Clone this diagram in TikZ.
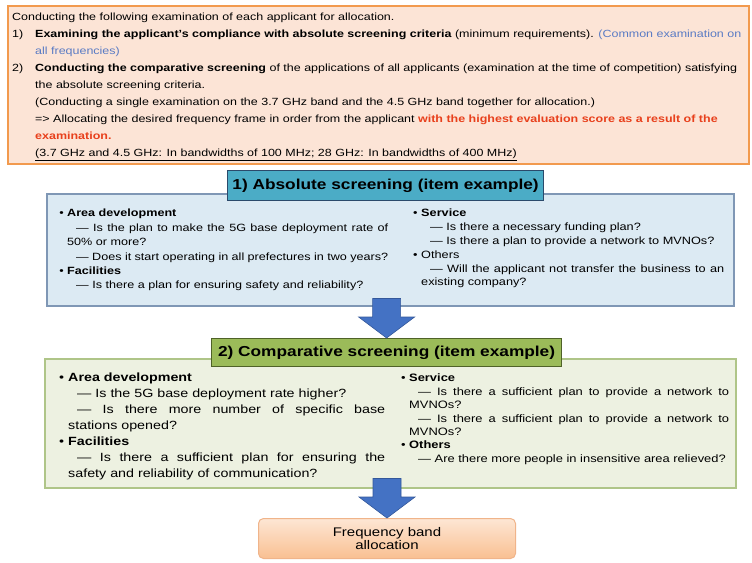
\documentclass[tikz,border=0pt]{standalone}
\usepackage{fontspec}
\setmainfont{Liberation Sans}[FakeStretch=1.2]
\usetikzlibrary{calc,positioning}
\definecolor{introfill}{HTML}{FCE4D6}
\definecolor{introline}{HTML}{F29A4E}
\definecolor{noteblue}{HTML}{5A7BC4}
\definecolor{scorered}{HTML}{E8401C}
\definecolor{abshead}{HTML}{4BACC6}
\definecolor{absheadline}{HTML}{2B4A6B}
\definecolor{absfill}{HTML}{DCEAF3}
\definecolor{absline}{HTML}{7F97B5}
\definecolor{comphead}{HTML}{9BBB59}
\definecolor{compheadline}{HTML}{4F6228}
\definecolor{compfill}{HTML}{EDF1E1}
\definecolor{compline}{HTML}{AFC588}
\definecolor{arrowfill}{HTML}{4472C4}
\definecolor{arrowline}{HTML}{34589A}
\definecolor{alloctop}{HTML}{FDE6D4}
\definecolor{allocbottom}{HTML}{F9C092}
\definecolor{allocline}{HTML}{F0B48A}
\newcommand{\headitem}[1]{\noindent\llap{\textbullet\ }\textbf{#1}\par}
\newcommand{\plainhead}[1]{\noindent\llap{\textbullet\ }#1\par}
\newcommand{\dashitem}{\noindent\hspace*{9pt}\textemdash\ }
\newcommand{\blockarrow}[2]{%
  \draw[arrowbody] ($(#1)+(-14,0)$) -- ($(#2)+(-14,-21)$) -- ($(#2)+(-28,-21)$)
    -- (#2) -- ($(#2)+(28,-21)$) -- ($(#2)+(14,-21)$) -- ($(#1)+(14,0)$) -- cycle;}

\begin{document}
\begin{tikzpicture}[x=1pt,y=-1pt,
  panel/.style={anchor=north west,inner sep=0},
  introbox/.style={panel,fill=introfill,draw=introline,line width=1.8pt},
  introtext/.style={panel,align=left,font=\fontsize{10.4}{17}\selectfont},
  headbox/.style={panel,line width=1.2pt,font=\fontsize{14.4}{16}\selectfont\bfseries},
  absbox/.style={panel,fill=absfill,draw=absline,line width=1.5pt},
  compbox/.style={panel,fill=compfill,draw=compline,line width=1.5pt},
  coltext/.style={panel,align=justify},
  arrowbody/.style={fill=arrowfill,draw=arrowline,line width=0.6pt},
  allocbox/.style={panel,rounded corners=5pt,top color=alloctop,bottom color=allocbottom,
    draw=allocline,line width=1pt,align=center,font=\fontsize{12.5}{13.5}\selectfont}]
\useasboundingbox[fill=white] (0,0) rectangle (752,562);

\node[introbox,minimum width=741,minimum height=158] (intro) at (7,5) {};
\node[introtext] (introlines) at (12,13) {Conducting the following examination of each applicant for allocation.\\
\makebox[23pt][l]{1)}\textbf{Examining the applicant's compliance with absolute screening criteria} (minimum requirements). \textcolor{noteblue}{(Common examination on}\\
\hspace*{23pt}\textcolor{noteblue}{all frequencies)}\\
\makebox[23pt][l]{2)}\textbf{Conducting the comparative screening} of the applications of all applicants (examination at the time of competition) satisfying\\
\hspace*{23pt}the absolute screening criteria.\\
\hspace*{23pt}(Conducting a single examination on the 3.7 GHz band and the 4.5 GHz band together for allocation.)\\
\hspace*{23pt}=> Allocating the desired frequency frame in order from the applicant \textcolor{scorered}{\textbf{with the highest evaluation score as a result of the}}\\
\hspace*{23pt}\textcolor{scorered}{\textbf{examination.}}\\
\hspace*{23pt}\underline{(3.7 GHz and 4.5 GHz: In bandwidths of 100 MHz; 28 GHz: In bandwidths of 400 MHz)}};

\node[absbox,minimum width=687,minimum height=112] (absbox) at (46,193) {};
\node[headbox,fill=abshead,draw=absheadline,minimum width=316,minimum height=30] (abstitle) at (227,170) {1) Absolute screening (item example)};
\node[coltext,text width=321,font=\fontsize{10.5}{14.4}\selectfont] (absleft) at (67,209) {%
\headitem{Area development}
\dashitem Is the plan to make the 5G base deployment rate of\linebreak 50\% or more?\par
\dashitem Does it start operating in all prefectures in two years?\par
\headitem{Facilities}
\dashitem Is there a plan for ensuring safety and reliability?\par};
\node[coltext,text width=303,font=\fontsize{10.6}{13.8}\selectfont] (absright) at (421,209) {%
\headitem{Service}
\dashitem Is there a necessary funding plan?\par
\dashitem Is there a plan to provide a network to MVNOs?\par
\plainhead{Others}
\dashitem Will the applicant not transfer the business to an\linebreak existing company?\par};

\node[compbox,minimum width=691,minimum height=129] (compbox) at (44,358) {};
\node[headbox,fill=comphead,draw=compheadline,minimum width=350,minimum height=28] (comptitle) at (211,338) {2) Comparative screening (item example)};
\node[coltext,text width=317,font=\fontsize{11.9}{16}\selectfont] (compleft) at (68,373) {%
\headitem{Area development}
\dashitem Is the 5G base deployment rate higher?\par
\dashitem Is there more number of specific base\linebreak stations opened?\par
\headitem{Facilities}
\dashitem Is there a sufficient plan for ensuring the\linebreak safety and reliability of communication?\par};
\node[coltext,text width=320,font=\fontsize{10.75}{13.4}\selectfont] (compright) at (409,374) {%
\headitem{Service}
\dashitem Is there a sufficient plan to provide a network to\linebreak MVNOs?\par
\dashitem Is there a sufficient plan to provide a network to\linebreak MVNOs?\par
\headitem{Others}
\dashitem Are there more people in insensitive area relieved?\par};

\node[allocbox,minimum width=257,minimum height=40] (alloc) at (258,518) {Frequency band\\allocation};

\coordinate (absdrop) at ($(absbox.south -| comptitle.north)+(0,-8)$);
\coordinate (compdrop) at ($(compbox.south -| alloc.north)+(0,-10)$);
\blockarrow{absdrop}{comptitle.north}
\blockarrow{compdrop}{alloc.north}
\end{tikzpicture}
\end{document}
